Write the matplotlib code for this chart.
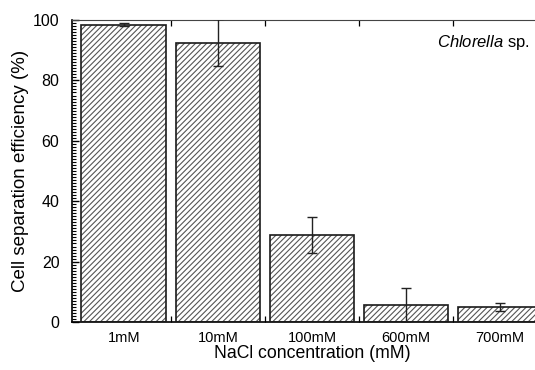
import matplotlib.pyplot as plt
import numpy as np
from matplotlib.ticker import MultipleLocator, FixedLocator

plt.rcParams["font.family"] = ["Liberation Sans", "DejaVu Sans"]
plt.rcParams["mathtext.fontset"] = "custom"
plt.rcParams["mathtext.it"] = "Liberation Sans:italic"
plt.rcParams["mathtext.rm"] = "Liberation Sans"
plt.rcParams["hatch.linewidth"] = 0.8

# NaCl series, separation efficiency (%) with error
concentrations = ["1mM", "10mM", "100mM", "600mM", "700mM"]
efficiency = [98.5, 92.5, 28.8, 5.6, 5.1]
errors = [0.5, 7.7, 5.9, 5.7, 1.3]

fig = plt.figure(figsize=(5.35, 3.7), dpi=100)
ax = fig.add_axes([72 / 535, 48 / 370, 480 / 535, 302 / 370])

x = np.arange(len(concentrations))
width = 0.9

# hatch in grey, outline in black
ax.bar(x, efficiency, width=width, color="white", edgecolor="#555555",
       hatch="//////", linewidth=0, zorder=2)
ax.bar(x, efficiency, width=width, color="none", edgecolor="#1a1a1a",
       linewidth=1.2, zorder=3)
ax.errorbar(x, efficiency, yerr=errors, fmt="none", ecolor="#222222",
            elinewidth=1.0, capsize=3.5, capthick=1.0, zorder=4)

ax.set_xlim(-0.55, 4.55)
ax.set_ylim(0, 100)

ax.set_xticks(x)
ax.set_xticklabels(concentrations, fontsize=10.5)
ax.xaxis.set_minor_locator(FixedLocator(x[:-1] + 0.5))
ax.tick_params(axis="x", which="major", length=0, pad=6.5)
ax.tick_params(axis="x", which="minor", direction="in", length=4,
               width=0.9, top=True, bottom=True)

ax.yaxis.set_major_locator(MultipleLocator(20))
ax.yaxis.set_minor_locator(MultipleLocator(1))
ax.tick_params(axis="y", which="major", direction="in", length=5,
               width=1.0, labelsize=11.5, pad=9)
ax.tick_params(axis="y", which="minor", direction="in", length=3, width=0.8)

ax.spines["right"].set_visible(False)
ax.spines["top"].set_color("#444444")
ax.spines["top"].set_linestyle((0, (2, 1)))
ax.spines["left"].set_linewidth(1.2)
ax.spines["bottom"].set_linewidth(1.2)

ax.set_xlabel("NaCl concentration (mM)", fontsize=12.7, labelpad=0)
ax.set_ylabel("Cell separation efficiency (%)", fontsize=13.5, labelpad=3)

fig.text(530 / 535, 1 - 47 / 370, r"$\it{Chlorella}$ sp.", fontsize=12,
         ha="right", va="baseline")

fig.savefig("out.png", dpi=100)
